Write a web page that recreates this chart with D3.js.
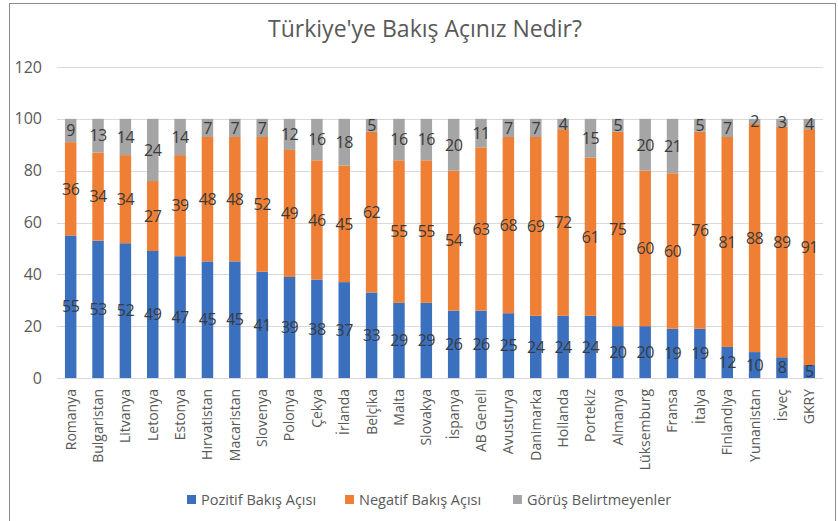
<!DOCTYPE html>
<html>
<head>
<meta charset="utf-8">
<script src="https://cdn.jsdelivr.net/npm/d3@7"></script>
<style>
  body { margin: 0; background: #fff; }
  text { font-family: "Open Sans", "DejaVu Sans", sans-serif; }
</style>
</head>
<body>
<div id="chart"></div>
<script>
const countries = ["Romanya", "Bulgaristan", "Litvanya", "Letonya", "Estonya", "Hırvatistan", "Macaristan", "Slovenya", "Polonya", "Çekya", "İrlanda", "Belçika", "Malta", "Slovakya", "İspanya", "AB Geneli", "Avusturya", "Danimarka", "Hollanda", "Portekiz", "Almanya", "Lüksemburg", "Fransa", "İtalya", "Finlandiya", "Yunanistan", "İsveç", "GKRY"];
const positive = [55, 53, 52, 49, 47, 45, 45, 41, 39, 38, 37, 33, 29, 29, 26, 26, 25, 24, 24, 24, 20, 20, 19, 19, 12, 10, 8, 5];
const negative = [36, 34, 34, 27, 39, 48, 48, 52, 49, 46, 45, 62, 55, 55, 54, 63, 68, 69, 72, 61, 75, 60, 60, 76, 81, 88, 89, 91];
const neutral = [9, 13, 14, 24, 14, 7, 7, 7, 12, 16, 18, 5, 16, 16, 20, 11, 7, 7, 4, 15, 5, 20, 21, 5, 7, 2, 3, 4];
const seriesNames = ["Pozitif Bakış Açısı", "Negatif Bakış Açısı", "Görüş Belirtmeyenler"];
const yTicks = [0, 20, 40, 60, 80, 100, 120];

const colors = ["#3B70BF", "#EF7F34", "#A5A5A5"];
const W = 838, H = 521;

const svg = d3.select("#chart").append("svg")
    .attr("width", W)
    .attr("height", H);

// frame
svg.append("rect")
    .attr("x", 9.5).attr("y", 3.5)
    .attr("width", 826).attr("height", 530)
    .attr("fill", "none")
    .attr("stroke", "#8c8c8c")
    .attr("stroke-width", 1);

const x = d3.scaleBand()
    .domain(countries)
    .range([57, 823])
    .paddingInner(0.58)
    .paddingOuter(0.29);

const y = d3.scaleLinear()
    .domain([0, 120])
    .range([378, 67]);

// gridlines
svg.append("g")
    .selectAll("line")
    .data(yTicks)
    .join("line")
    .attr("x1", 57).attr("x2", 823)
    .attr("y1", d => Math.round(y(d)) + 0.5)
    .attr("y2", d => Math.round(y(d)) + 0.5)
    .attr("stroke", "#d9d9d9")
    .attr("stroke-width", 1);

// y tick labels
svg.append("g")
    .selectAll("text")
    .data(yTicks)
    .join("text")
    .attr("x", 42)
    .attr("y", d => y(d))
    .attr("dy", "0.35em")
    .attr("text-anchor", "end")
    .attr("fill", "#595959")
    .attr("font-size", "16px")
    .text(d => d);

// stacked bars
const rows = countries.map((c, i) => ({ country: c, pos: positive[i], neg: negative[i], neu: neutral[i] }));
const stack = d3.stack().keys(["pos", "neg", "neu"])(rows);

const layers = svg.append("g")
    .selectAll("g")
    .data(stack)
    .join("g")
    .attr("fill", (d, i) => colors[i]);

layers.selectAll("rect")
    .data(d => d)
    .join("rect")
    .attr("x", d => x(d.data.country))
    .attr("width", x.bandwidth())
    .attr("y", d => y(d[1]))
    .attr("height", d => y(d[0]) - y(d[1]));

// value labels
const labels = svg.append("g");
stack.forEach(layer => {
    labels.selectAll(null)
        .data(layer)
        .join("text")
        .attr("x", d => x(d.data.country) + x.bandwidth() / 2)
        .attr("y", d => y((d[0] + d[1]) / 2))
        .attr("dy", "0.36em")
        .attr("text-anchor", "middle")
        .attr("fill", "#3a3a3a")
        .attr("font-size", "16px")
        .attr("letter-spacing", "-0.5px")
        .text(d => d[1] - d[0]);
});

// x axis labels
svg.append("g")
    .selectAll("text")
    .data(countries)
    .join("text")
    .attr("transform", d => `translate(${x(d) + x.bandwidth() / 2},389) rotate(-90)`)
    .attr("dy", "0.35em")
    .attr("text-anchor", "end")
    .attr("fill", "#595959")
    .attr("font-size", "14px")
    .text(d => d);

// title
svg.append("text")
    .attr("x", 425)
    .attr("y", 37)
    .attr("text-anchor", "middle")
    .attr("fill", "#595959")
    .attr("font-size", "23px")
    .text("Türkiye'ye Bakış Açınız Nedir?");

// legend
const legendX = [187, 345, 513];
const legend = svg.append("g")
    .selectAll("g")
    .data(seriesNames)
    .join("g")
    .attr("transform", (d, i) => `translate(${legendX[i]},495)`);

legend.append("rect")
    .attr("width", 9).attr("height", 9)
    .attr("fill", (d, i) => colors[i]);

legend.append("text")
    .attr("x", 14)
    .attr("y", 4.5)
    .attr("dy", "0.35em")
    .attr("fill", "#595959")
    .attr("font-size", "14.5px")
    .text(d => d);
</script>
</body>
</html>
